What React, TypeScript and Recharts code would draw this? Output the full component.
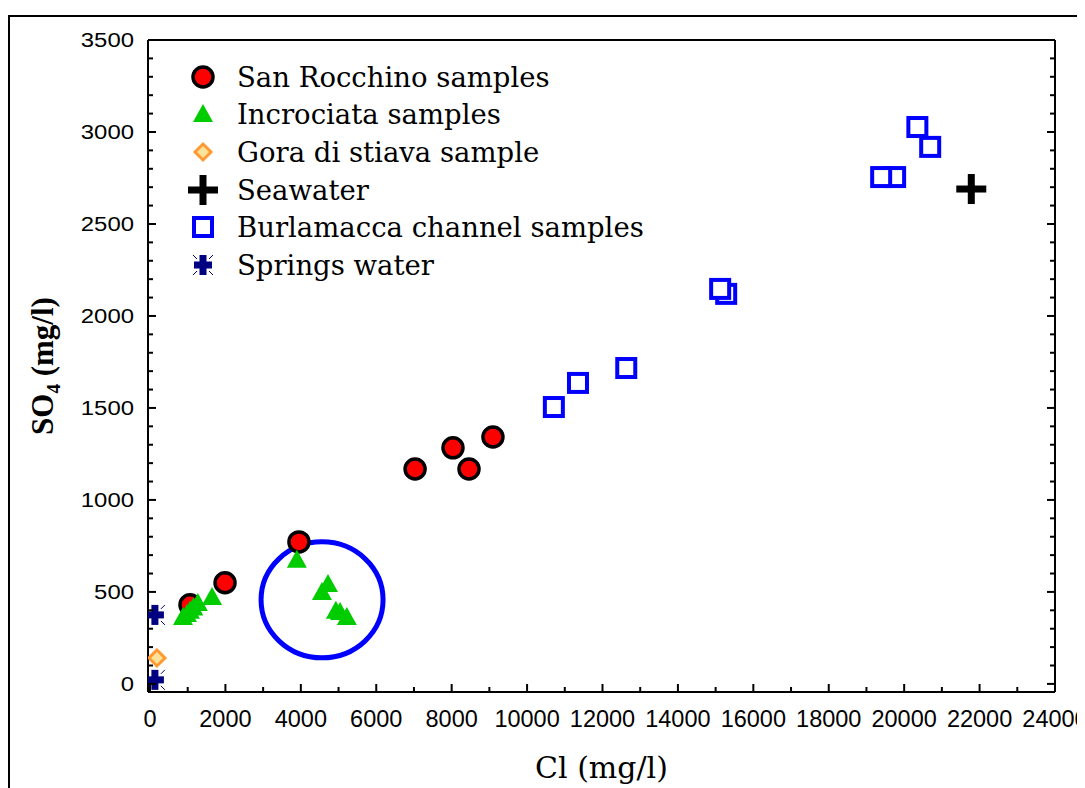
import React from "react";
import { ScatterChart, Scatter, XAxis, YAxis, ReferenceDot, Legend, Label } from "recharts";

// Cl (mg/l) vs SO4 (mg/l)
const sanRocchino = [
  { cl: 1060, so4: 430 },
  { cl: 1990, so4: 550 },
  { cl: 3950, so4: 772 },
  { cl: 7030, so4: 1168 },
  { cl: 8035, so4: 1283 },
  { cl: 8460, so4: 1168 },
  { cl: 9095, so4: 1342 },
];

const incrociata = [
  { cl: 875, so4: 364 },
  { cl: 980, so4: 380 },
  { cl: 1060, so4: 397 },
  { cl: 1150, so4: 415 },
  { cl: 1270, so4: 440 },
  { cl: 1645, so4: 473 },
  { cl: 3895, so4: 675 },
  { cl: 4560, so4: 500 },
  { cl: 4720, so4: 543 },
  { cl: 4930, so4: 397 },
  { cl: 5040, so4: 391 },
  { cl: 5220, so4: 364 },
];

const goraDiStiava = [{ cl: 185, so4: 141 }];

const seawater = [{ cl: 21780, so4: 2690 }];

const burlamacca = [
  { cl: 10710, so4: 1505 },
  { cl: 11350, so4: 1636 },
  { cl: 12630, so4: 1717 },
  { cl: 15280, so4: 2120 },
  { cl: 15120, so4: 2147 },
  { cl: 19760, so4: 2755 },
  { cl: 19390, so4: 2755 },
  { cl: 20690, so4: 2919 },
  { cl: 20350, so4: 3027 },
];

const springs = [
  { cl: 130, so4: 375 },
  { cl: 130, so4: 22 },
];

// highlighted group (blue ring)
const ringCenter = { cl: 4563, so4: 457 };

const xTicks = [0, 1000, 2000, 3000, 4000, 5000, 6000, 7000, 8000, 9000, 10000, 11000, 12000,
  13000, 14000, 15000, 16000, 17000, 18000, 19000, 20000, 21000, 22000, 23000, 24000];
const yTicks = Array.from({ length: 36 }, (_, i) => i * 100);

const SERIF = "'DejaVu Serif', 'Liberation Serif', serif";
const SANS = "'Liberation Sans', Arial, sans-serif";

const Dot = ({ cx, cy }: any) => (
  <circle cx={cx} cy={cy} r={10} fill="#ff0000" stroke="#000" strokeWidth={3.5} />
);
const Tri = ({ cx, cy }: any) => (
  <polygon points={`${cx},${cy - 10} ${cx + 10},${cy + 8} ${cx - 10},${cy + 8}`} fill="#00cc00" />
);
const Diamond = ({ cx, cy }: any) => (
  <polygon
    points={`${cx},${cy - 8} ${cx + 8},${cy} ${cx},${cy + 8} ${cx - 8},${cy}`}
    fill="#fde39a"
    stroke="#ff9933"
    strokeWidth={3}
  />
);
const Plus = ({ cx, cy }: any) => (
  <g>
    <rect x={cx - 15} y={cy - 3.5} width={30} height={7} fill="#000" />
    <rect x={cx - 3.5} y={cy - 15} width={7} height={30} fill="#000" />
  </g>
);
const Square = ({ cx, cy }: any) => (
  <rect x={cx - 9} y={cy - 9} width={18} height={18} fill="#fff" stroke="#0000ff" strokeWidth={4} />
);
const Star = ({ cx, cy }: any) => (
  <g>
    <rect x={cx - 9} y={cy - 3.5} width={18} height={7} fill="#000080" />
    <rect x={cx - 3.5} y={cy - 10} width={7} height={20} fill="#000080" />
    <line x1={cx + 6} y1={cy - 6} x2={cx + 10} y2={cy - 10} stroke="#000080" strokeWidth={1} />
    <line x1={cx + 6} y1={cy + 6} x2={cx + 10} y2={cy + 10} stroke="#000080" strokeWidth={1} />
    <line x1={cx - 6} y1={cy - 6} x2={cx - 10} y2={cy - 10} stroke="#000080" strokeWidth={1} />
    <line x1={cx - 6} y1={cy + 6} x2={cx - 10} y2={cy + 10} stroke="#000080" strokeWidth={1} />
  </g>
);

const legendItems = [
  { name: "San Rocchino samples", Icon: Dot },
  { name: "Incrociata samples", Icon: Tri },
  { name: "Gora di stiava sample", Icon: Diamond },
  { name: "Seawater", Icon: Plus },
  { name: "Burlamacca channel samples", Icon: Square },
  { name: "Springs water", Icon: Star },
];

const renderLegend = () => (
  <div>
    {legendItems.map(({ name, Icon }) => (
      <div key={name} style={{ display: "flex", alignItems: "center", height: 37.6 }}>
        <svg width={40} height={36}>
          <Icon cx={20} cy={18} />
        </svg>
        <span style={{ marginLeft: 14, fontFamily: SERIF, fontSize: 27.5, color: "#000", whiteSpace: "nowrap" }}>
          {name}
        </span>
      </div>
    ))}
  </div>
);

const BottomTick = ({ x, y, payload }: any) => {
  const major = payload.value % 2000 === 0;
  return (
    <g>
      <line x1={x} x2={x} y1={y} y2={y - (major ? 8 : 5)} stroke="#000" strokeWidth={2} />
      {major && (
        <text x={x} y={y + 35} textAnchor="middle" fontFamily={SANS} fontSize={23.5} fill="#000">
          {payload.value}
        </text>
      )}
    </g>
  );
};

const TopTick = ({ x, y, payload }: any) => {
  const major = payload.value % 2000 === 0;
  return <line x1={x} x2={x} y1={y} y2={y + (major ? 8 : 5)} stroke="#000" strokeWidth={2} />;
};

const LeftTick = ({ x, y, payload }: any) => {
  const major = payload.value % 500 === 0;
  const label = String(payload.value);
  return (
    <g>
      <line x1={x} x2={x + (major ? 8 : 5)} y1={y} y2={y} stroke="#000" strokeWidth={2} />
      {major && (
        <text
          x={x - 14}
          y={y + 7}
          textAnchor="end"
          fontFamily={SANS}
          fontSize={19.5}
          fill="#000"
          textLength={13.3 * label.length}
          lengthAdjust="spacingAndGlyphs"
        >
          {label}
        </text>
      )}
    </g>
  );
};

const RightTick = ({ x, y, payload }: any) => {
  const major = payload.value % 500 === 0;
  return <line x1={x} x2={x - (major ? 8 : 5)} y1={y} y2={y} stroke="#000" strokeWidth={2} />;
};

const YTitle = ({ viewBox }: any) => {
  const cx = 45;
  const cy = viewBox.y + viewBox.height / 2;
  return (
    <text
      x={cx}
      y={cy}
      transform={`rotate(-90, ${cx}, ${cy})`}
      textAnchor="middle"
      fontFamily="'Liberation Serif', 'Times New Roman', serif"
      fontWeight="bold"
      fontSize={31}
      fill="#000"
    >
      SO
      <tspan fontSize={19} dy={7}>4</tspan>
      <tspan dy={-7}> (mg/l)</tspan>
    </text>
  );
};

const XTitle = ({ viewBox }: any) => (
  <text
    x={viewBox.x + viewBox.width / 2}
    y={viewBox.y + 86}
    textAnchor="middle"
    fontFamily={SERIF}
    fontSize={30}
    fill="#000"
  >
    Cl (mg/l)
  </text>
);

const Ring = ({ cx, cy }: any) => (
  <ellipse cx={cx} cy={cy} rx={61} ry={58} fill="none" stroke="#0000ff" strokeWidth={5} />
);

const axisLine = { stroke: "#000", strokeWidth: 2 };

export default function App() {
  return (
    <div style={{ position: "relative", width: 1077, height: 780, overflow: "hidden", background: "#fff" }}>
      <div
        style={{
          position: "absolute",
          left: 0,
          top: 7,
          width: 1200,
          height: 900,
          borderLeft: "2px solid #000",
          borderTop: "2px solid #000",
        }}
      />
      <ScatterChart width={1077} height={780} margin={{ top: 8, right: 0, bottom: 6, left: 10 }}>
        <XAxis
          xAxisId="b"
          type="number"
          dataKey="cl"
          domain={[-53, 24000]}
          allowDataOverflow
          ticks={xTicks}
          interval={0}
          height={90}
          tickSize={0}
          tickMargin={0}
          axisLine={axisLine}
          tick={<BottomTick />}
        >
          <Label content={<XTitle />} />
        </XAxis>
        <XAxis
          xAxisId="t"
          orientation="top"
          type="number"
          domain={[-53, 24000]}
          allowDataOverflow
          ticks={xTicks}
          interval={0}
          height={24}
          tickSize={0}
          tickMargin={0}
          axisLine={axisLine}
          tick={<TopTick />}
        />
        <YAxis
          yAxisId="l"
          type="number"
          dataKey="so4"
          domain={[-44, 3500]}
          allowDataOverflow
          ticks={yTicks}
          interval={0}
          width={130}
          tickSize={0}
          tickMargin={0}
          axisLine={axisLine}
          tick={<LeftTick />}
        >
          <Label content={<YTitle />} />
        </YAxis>
        <YAxis
          yAxisId="r"
          orientation="right"
          type="number"
          domain={[-44, 3500]}
          allowDataOverflow
          ticks={yTicks}
          interval={0}
          width={30}
          tickSize={0}
          tickMargin={0}
          axisLine={axisLine}
          tick={<RightTick />}
        />
        <Legend
          layout="vertical"
          align="center"
          verticalAlign="middle"
          content={renderLegend}
          wrapperStyle={{ position: "absolute", top: 50, left: 175, width: "auto", height: "auto" }}
        />
        <ReferenceDot xAxisId="b" yAxisId="l" x={ringCenter.cl} y={ringCenter.so4} shape={<Ring />} />
        <Scatter name="Springs water" data={springs} xAxisId="b" yAxisId="l" shape={<Star />} isAnimationActive={false} />
        <Scatter name="Gora di stiava sample" data={goraDiStiava} xAxisId="b" yAxisId="l" shape={<Diamond />} isAnimationActive={false} />
        <Scatter name="San Rocchino samples" data={sanRocchino} xAxisId="b" yAxisId="l" shape={<Dot />} isAnimationActive={false} />
        <Scatter name="Incrociata samples" data={incrociata} xAxisId="b" yAxisId="l" shape={<Tri />} isAnimationActive={false} />
        <Scatter name="Burlamacca channel samples" data={burlamacca} xAxisId="b" yAxisId="l" shape={<Square />} isAnimationActive={false} />
        <Scatter name="Seawater" data={seawater} xAxisId="b" yAxisId="l" shape={<Plus />} isAnimationActive={false} />
      </ScatterChart>
    </div>
  );
}
